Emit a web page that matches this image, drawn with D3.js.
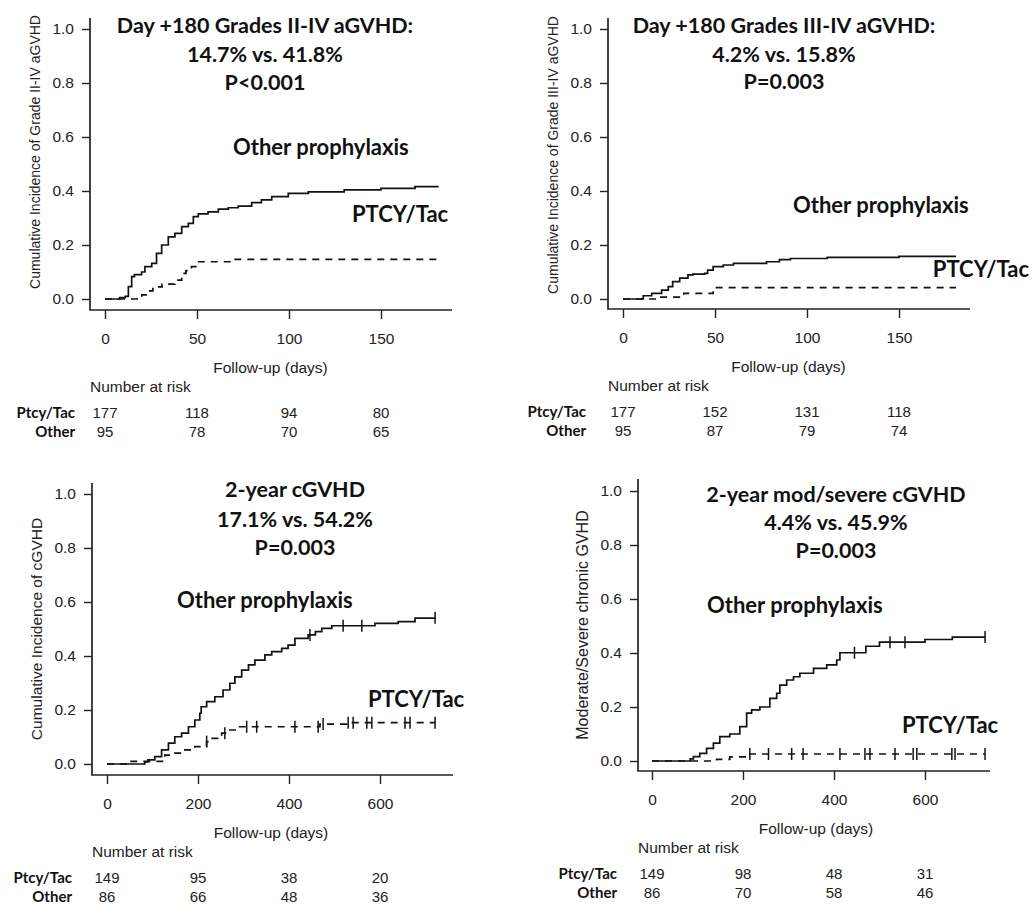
<!DOCTYPE html>
<html>
<head>
<meta charset="utf-8">
<script src="https://cdn.jsdelivr.net/npm/d3@7"></script>
<style>
  body { margin: 0; background: #fff; }
  svg { display: block; }
  .axis-text { font-family: "Liberation Sans", Arial, sans-serif; font-size: 15.5px; fill: #222; }
  .ylab-text { font-family: "Liberation Sans", Arial, sans-serif; fill: #222; }
  .bold-text { font-family: Lato, "Open Sans", sans-serif; font-weight: bold; fill: #111; }
  .curve { fill: none; stroke: #111; stroke-width: 1.7; }
  .frame { stroke: #222; stroke-width: 1.7; fill: none; }
</style>
</head>
<body>
<div id="chart"></div>
<script>
// ---- data ----

// panel A: grades II-IV aGVHD (days 0-180)
const aTicks = [0, 50, 100, 150];
const aOtherDays = [0, 8, 11, 12.7, 14.5, 16, 19.9, 21.7, 25.4, 28, 30.8, 34.4, 38, 41.7, 45.3, 48, 50.7, 56, 61.6, 67, 72.4, 79.7, 85, 90.6, 99.6, 110.5, 130, 150, 168.5, 181];
const aOtherVals = [0, 0.005, 0.01, 0.046, 0.083, 0.09, 0.1, 0.12, 0.132, 0.169, 0.2, 0.23, 0.243, 0.268, 0.28, 0.305, 0.315, 0.323, 0.333, 0.338, 0.344, 0.357, 0.367, 0.379, 0.391, 0.397, 0.404, 0.41, 0.416, 0.418];
const aPtcyDays = [0, 20, 23, 26, 31, 38, 41.7, 44, 47, 50, 70, 181];
const aPtcyVals = [0, 0.015, 0.03, 0.045, 0.055, 0.07, 0.095, 0.105, 0.12, 0.138, 0.147, 0.147];
const aRiskPtcy = [177, 118, 94, 80];
const aRiskOther = [95, 78, 70, 65];

// panel B: grades III-IV aGVHD (days 0-180)
const bTicks = [0, 50, 100, 150];
const bOtherDays = [0, 11, 15.6, 21, 24.6, 27, 30.8, 35.3, 38, 44.4, 46, 49, 54.5, 60, 78, 85, 91, 111, 150, 181];
const bOtherVals = [0, 0.012, 0.021, 0.033, 0.046, 0.064, 0.077, 0.089, 0.092, 0.095, 0.107, 0.12, 0.126, 0.132, 0.138, 0.146, 0.15, 0.154, 0.158, 0.158];
const bPtcyDays = [0, 20, 33, 49, 181];
const bPtcyVals = [0, 0.007, 0.021, 0.042, 0.042];
const bRiskPtcy = [177, 152, 131, 118];
const bRiskOther = [95, 87, 79, 74];

// panel C: chronic GVHD (days 0-730)
const cTicks = [0, 200, 400, 600];
const cOtherDays = [0, 83, 90, 105, 120, 135, 149, 164, 179, 193, 204, 207, 219, 237, 255, 270, 281, 296, 311, 325, 347, 362, 384, 398, 413, 442, 458, 472, 494, 589, 640, 677, 721];
const cOtherVals = [0, 0.008, 0.015, 0.027, 0.052, 0.077, 0.101, 0.114, 0.138, 0.163, 0.188, 0.212, 0.231, 0.249, 0.274, 0.299, 0.323, 0.348, 0.367, 0.385, 0.404, 0.416, 0.428, 0.44, 0.465, 0.478, 0.49, 0.502, 0.512, 0.521, 0.527, 0.54, 0.542];
const cOtherCensor = [446, 519, 560, 721];
const cPtcyDays = [0, 46, 85, 127, 140, 165, 193, 219, 226, 252, 263, 289, 468, 527, 721];
const cPtcyVals = [0, 0.01, 0.01, 0.033, 0.04, 0.052, 0.064, 0.083, 0.095, 0.114, 0.126, 0.138, 0.148, 0.153, 0.153];
const cPtcyCensor = [219, 259, 307, 329, 413, 464, 475, 530, 541, 571, 582, 655, 666, 721];
const cRiskPtcy = [149, 95, 38, 20];
const cRiskOther = [86, 66, 48, 36];

// panel D: moderate/severe chronic GVHD (days 0-730)
const dTicks = [0, 200, 400, 600];
const dOtherDays = [0, 84, 91, 105, 120, 135, 149, 171, 193, 208, 219, 237, 259, 274, 281, 296, 311, 325, 355, 384, 406, 413, 470, 500, 600, 660, 732];
const dOtherVals = [0, 0.008, 0.016, 0.028, 0.047, 0.066, 0.09, 0.1, 0.127, 0.177, 0.189, 0.2, 0.232, 0.251, 0.281, 0.3, 0.312, 0.325, 0.343, 0.356, 0.374, 0.401, 0.425, 0.44, 0.45, 0.459, 0.459];
const dOtherCensor = [445, 523, 556, 732];
const dPtcyDays = [0, 142, 171, 208, 732];
const dPtcyVals = [0, 0.006, 0.015, 0.026, 0.026];
const dPtcyCensor = [215, 256, 307, 332, 413, 468, 479, 534, 574, 582, 659, 666, 732];
const dRiskPtcy = [149, 98, 48, 31];
const dRiskOther = [86, 70, 58, 46];

const yTicks = [0, 0.2, 0.4, 0.6, 0.8, 1.0];

// ---- panel layout (pixels) ----
const panels = [
  {
    ticks: aTicks, xMax: 150, xRange: [105, 381], yRange: [299, 29],
    axisX: 90, axisY: 310, boxTop: 18, boxRight: 452,
    ylab: "Cumulative Incidence of Grade II-IV aGVHD", ylabY: 152, ylabSize: 14,
    title: ["Day +180 Grades II-IV aGVHD:", "14.7% vs. 41.8%", "P<0.001"],
    titleX: 265, titleY: [33, 62, 90],
    otherLab: [233, 155, "start"], ptcyLab: [352, 222, "start"],
    other: [aOtherDays, aOtherVals, []], ptcy: [aPtcyDays, aPtcyVals, []],
    riskPtcy: aRiskPtcy, riskOther: aRiskOther, rowLabX: 75
  },
  {
    ticks: bTicks, xMax: 150, xRange: [623, 899], yRange: [299, 29],
    axisX: 608, axisY: 309, boxTop: 18, boxRight: 970,
    ylab: "Cumulative Incidence of Grade III-IV aGVHD", ylabY: 155, ylabSize: 14,
    title: ["Day +180 Grades III-IV aGVHD:", "4.2% vs. 15.8%", "P=0.003"],
    titleX: 784, titleY: [33, 62, 89],
    otherLab: [793, 213, "start"], ptcyLab: [1029, 277, "end"],
    other: [bOtherDays, bOtherVals, []], ptcy: [bPtcyDays, bPtcyVals, []],
    riskPtcy: bRiskPtcy, riskOther: bRiskOther, rowLabX: 586
  },
  {
    ticks: cTicks, xMax: 600, xRange: [107, 380], yRange: [764, 494],
    axisX: 92, axisY: 775, boxTop: 483, boxRight: 453,
    ylab: "Cumulative Incidence of cGVHD", ylabY: 629, ylabSize: 15.5,
    title: ["2-year cGVHD", "17.1% vs. 54.2%", "P=0.003"],
    titleX: 295, titleY: [497, 527, 555],
    otherLab: [177, 608, "start"], ptcyLab: [368, 707, "start"],
    other: [cOtherDays, cOtherVals, cOtherCensor], ptcy: [cPtcyDays, cPtcyVals, cPtcyCensor],
    riskPtcy: cRiskPtcy, riskOther: cRiskOther, rowLabX: 72
  },
  {
    ticks: dTicks, xMax: 600, xRange: [652, 925], yRange: [761, 491],
    axisX: 638, axisY: 771, boxTop: 479, boxRight: 990,
    ylab: "Moderate/Severe chronic GVHD", ylabY: 625, ylabSize: 16,
    title: ["2-year mod/severe cGVHD", "4.4% vs. 45.9%", "P=0.003"],
    titleX: 836, titleY: [502, 530, 558],
    otherLab: [707, 613, "start"], ptcyLab: [902, 733, "start"],
    other: [dOtherDays, dOtherVals, dOtherCensor], ptcy: [dPtcyDays, dPtcyVals, dPtcyCensor],
    riskPtcy: dRiskPtcy, riskOther: dRiskOther, rowLabX: 617
  }
];

const svg = d3.select("#chart").append("svg")
  .attr("width", 1032)
  .attr("height", 905);

svg.append("rect").attr("width", 1032).attr("height", 905).attr("fill", "#fff");

panels.forEach(drawPanel);

function drawPanel(p) {
  let g = svg.append("g");

  let x = d3.scaleLinear().domain([0, p.xMax]).range(p.xRange);
  let y = d3.scaleLinear().domain([0, 1]).range(p.yRange);

  // L-shaped frame
  g.append("path")
    .attr("class", "frame")
    .attr("d", `M${p.axisX},${p.boxTop}V${p.axisY}H${p.boxRight}`);

  // y axis: ticks + labels
  let yAxis = d3.axisLeft(y).tickValues(yTicks).tickFormat(d3.format(".1f")).tickSize(8).tickPadding(8);
  let ya = g.append("g").attr("transform", `translate(${p.axisX},0)`).call(yAxis);
  ya.select(".domain").remove();
  ya.selectAll("line").attr("stroke", "#222").attr("stroke-width", 1.4);
  ya.selectAll("text").attr("class", "axis-text").attr("fill", null).attr("font-size", null).attr("font-family", null);

  // x axis: ticks below the frame
  let xAxis = d3.axisBottom(x).tickValues(p.ticks).tickSize(9).tickPadding(14);
  let xa = g.append("g").attr("transform", `translate(0,${p.axisY})`).call(xAxis);
  xa.select(".domain").remove();
  xa.selectAll("line").attr("stroke", "#222").attr("stroke-width", 1.4);
  xa.selectAll("text").attr("class", "axis-text").attr("fill", null).attr("font-size", null).attr("font-family", null);

  // axis titles
  g.append("text")
    .attr("class", "ylab-text")
    .attr("font-size", p.ylabSize)
    .attr("text-anchor", "middle")
    .attr("transform", `translate(${p.axisX - 50},${p.ylabY}) rotate(-90)`)
    .text(p.ylab);

  g.append("text")
    .attr("class", "axis-text")
    .attr("text-anchor", "middle")
    .attr("x", (x(0) + x(p.ticks[p.ticks.length - 1]) + 55) / 2)
    .attr("y", p.axisY + 63)
    .text("Follow-up (days)");

  // curves
  let line = d3.line()
    .curve(d3.curveStepAfter)
    .x(d => x(d[0]))
    .y(d => y(d[1]));

  let series = [
    { s: p.other, dash: null },
    { s: p.ptcy, dash: "7,6" }
  ];

  series.forEach(function (d) {
    let pts = d.s[0].map((t, i) => [t, d.s[1][i]]);
    g.append("path")
      .datum(pts)
      .attr("class", "curve")
      .attr("stroke-dasharray", d.dash)
      .attr("d", line);

    // censoring marks
    let stepVal = function (t) {
      let v = 0;
      d.s[0].forEach((tt, i) => { if (tt <= t) v = d.s[1][i]; });
      return v;
    };
    g.selectAll(null)
      .data(d.s[2])
      .enter()
      .append("line")
      .attr("x1", t => x(t))
      .attr("x2", t => x(t))
      .attr("y1", t => y(stepVal(t)) - 6)
      .attr("y2", t => y(stepVal(t)) + 6)
      .attr("stroke", "#111")
      .attr("stroke-width", 1.5);
  });

  // title block
  g.selectAll(null)
    .data(p.title)
    .enter()
    .append("text")
    .attr("class", "bold-text")
    .attr("text-anchor", "middle")
    .attr("font-size", 21.5)
    .attr("x", p.titleX)
    .attr("y", (d, i) => p.titleY[i])
    .text(d => d);

  // group labels
  g.append("text").attr("class", "bold-text").attr("font-size", 22)
    .attr("text-anchor", p.otherLab[2])
    .attr("x", p.otherLab[0]).attr("y", p.otherLab[1]).text("Other prophylaxis");
  g.append("text").attr("class", "bold-text").attr("font-size", 22)
    .attr("text-anchor", p.ptcyLab[2])
    .attr("x", p.ptcyLab[0]).attr("y", p.ptcyLab[1]).text("PTCY/Tac");

  // number at risk table
  g.append("text")
    .attr("class", "axis-text")
    .attr("x", p.axisX)
    .attr("y", p.axisY + 82)
    .text("Number at risk");

  let rows = [
    { lab: "Ptcy/Tac", vals: p.riskPtcy, dy: 108 },
    { lab: "Other", vals: p.riskOther, dy: 127 }
  ];

  rows.forEach(function (r) {
    g.append("text")
      .attr("class", "bold-text")
      .attr("font-size", 15)
      .attr("text-anchor", "end")
      .attr("x", p.rowLabX)
      .attr("y", p.axisY + r.dy)
      .text(r.lab);

    g.selectAll(null)
      .data(r.vals)
      .enter()
      .append("text")
      .attr("class", "axis-text")
      .attr("font-size", 15)
      .style("font-size", "15px")
      .attr("text-anchor", "middle")
      .attr("x", (d, i) => x(p.ticks[i]))
      .attr("y", p.axisY + r.dy)
      .text(d => d);
  });
}
</script>
</body>
</html>
